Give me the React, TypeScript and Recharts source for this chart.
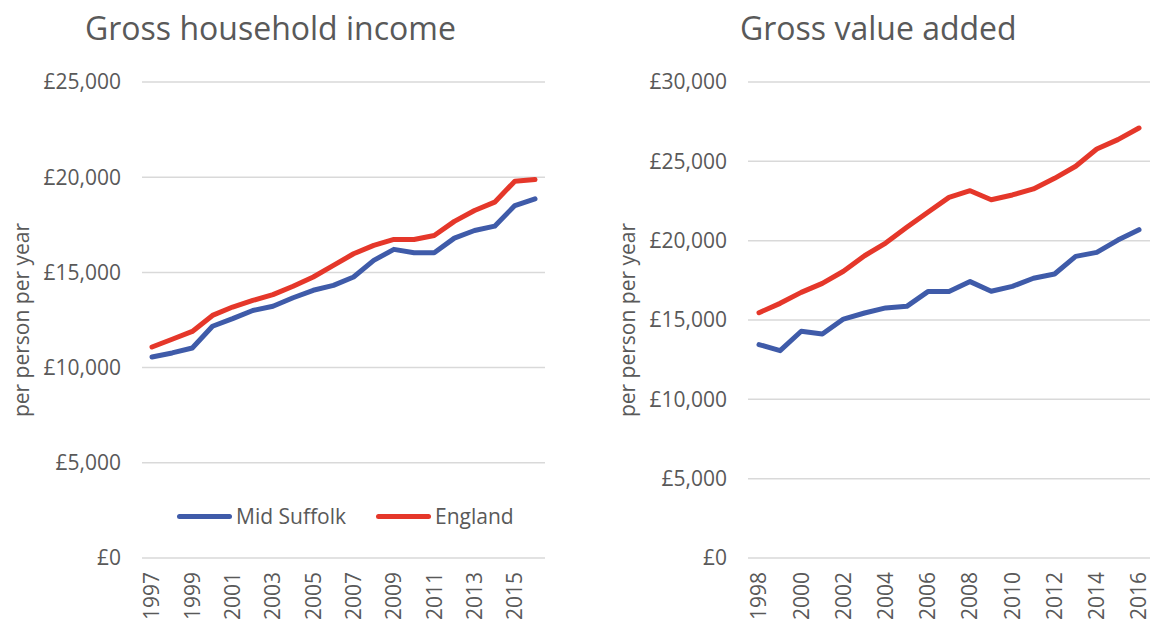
import { LineChart, Line, XAxis, YAxis, CartesianGrid, Legend } from 'recharts'

const incomeYears = ['1997', '1998', '1999', '2000', '2001', '2002', '2003', '2004', '2005', '2006', '2007', '2008', '2009', '2010', '2011', '2012', '2013', '2014', '2015', '2016']
const incomeMidSuffolk = [10560, 10770, 11030, 12170, 12570, 13000, 13220, 13670, 14060, 14320, 14760, 15630, 16210, 16030, 16030, 16800, 17200, 17430, 18510, 18860]
const incomeEngland = [11080, 11490, 11900, 12740, 13180, 13530, 13830, 14270, 14760, 15370, 15980, 16420, 16730, 16730, 16940, 17680, 18250, 18690, 19790, 19880]
const incomeTicks = [0, 5000, 10000, 15000, 20000, 25000]

const gvaYears = ['1998', '1999', '2000', '2001', '2002', '2003', '2004', '2005', '2006', '2007', '2008', '2009', '2010', '2011', '2012', '2013', '2014', '2015', '2016']
const gvaMidSuffolk = [13450, 13070, 14290, 14120, 15060, 15440, 15760, 15860, 16790, 16790, 17420, 16810, 17120, 17630, 17900, 19010, 19260, 20040, 20690]
const gvaEngland = [15460, 16050, 16740, 17310, 18070, 19050, 19850, 20840, 21790, 22730, 23150, 22580, 22880, 23260, 23930, 24690, 25780, 26370, 27100]
const gvaTicks = [0, 5000, 10000, 15000, 20000, 25000, 30000]

const BLUE = '#3F5BA9'
const RED = '#E5372A'
const TEXT = '#595959'

const fmt = (v: number) => '£' + v.toLocaleString('en-GB')

function YearTick({ x, y, payload }: any) {
  return (
    <text
      x={x}
      y={y}
      transform={`rotate(-90 ${x} ${y})`}
      textAnchor="end"
      dy="0.35em"
      fill={TEXT}
      fontSize={21}
    >
      {payload.value}
    </text>
  )
}

function LegendContent() {
  const items = [
    { name: 'Mid Suffolk', color: BLUE },
    { name: 'England', color: RED },
  ]
  return (
    <div style={{ display: 'flex', alignItems: 'center', gap: 30 }}>
      {items.map((it) => (
        <div key={it.name} style={{ display: 'flex', alignItems: 'center', color: TEXT, fontSize: 21 }}>
          <span style={{ display: 'inline-block', width: 55, height: 5, borderRadius: 3, background: it.color, marginRight: 4 }} />
          {it.name}
        </div>
      ))}
    </div>
  )
}

interface PanelProps {
  title: string
  titleLeft: number
  left: number
  width: number
  marginRight: number
  pad: number
  years: string[]
  mid: number[]
  eng: number[]
  ticks: number[]
  showLegend?: boolean
}

function Panel({ title, titleLeft, left, width, marginRight, pad, years, mid, eng, ticks, showLegend }: PanelProps) {
  const data = years.map((y, i) => ({ year: y, mid: mid[i], eng: eng[i] }))
  return (
    <div style={{ position: 'absolute', left, top: 0, width, height: 623 }}>
      <div style={{ position: 'absolute', left: titleLeft, top: 8, fontSize: 32, lineHeight: '40px', color: TEXT, whiteSpace: 'nowrap' }}>
        {title}
      </div>
      <LineChart width={width} height={623} data={data} margin={{ top: 82, right: marginRight, bottom: 0, left: 0 }}>
        <CartesianGrid vertical={false} stroke="#D9D9D9" strokeWidth={1.5} />
        <XAxis
          dataKey="year"
          axisLine={false}
          tickLine={false}
          tickSize={0}
          tickMargin={14}
          interval={1}
          height={65}
          padding={{ left: pad, right: pad }}
          tick={<YearTick />}
        />
        <YAxis
          width={142}
          domain={[ticks[0], ticks[ticks.length - 1]]}
          ticks={ticks}
          tickFormatter={fmt}
          axisLine={false}
          tickLine={false}
          tickSize={0}
          tickMargin={21}
          tick={{ fill: TEXT, fontSize: 21 }}
          label={{ value: 'per person per year', angle: -90, position: 'insideLeft', offset: 22, fill: TEXT, fontSize: 21, style: { textAnchor: 'middle' } }}
        />
        {showLegend && (
          <Legend
            layout="horizontal"
            verticalAlign="middle"
            align="center"
            content={<LegendContent />}
            wrapperStyle={{ position: 'absolute', left: 177, top: 502, width: 'auto' }}
          />
        )}
        <Line type="linear" dataKey="mid" name="Mid Suffolk" stroke={BLUE} strokeWidth={5} dot={false} strokeLinecap="round" strokeLinejoin="round" isAnimationActive={false} />
        <Line type="linear" dataKey="eng" name="England" stroke={RED} strokeWidth={5} dot={false} strokeLinecap="round" strokeLinejoin="round" isAnimationActive={false} />
      </LineChart>
    </div>
  )
}

export default function App() {
  return (
    <div style={{ position: 'absolute', left: 0, top: 0, width: 1157, height: 623, background: '#fff', fontFamily: '"Open Sans", sans-serif' }}>
      <Panel title="Gross household income" titleLeft={85} left={0} width={560} marginRight={15} pad={10} years={incomeYears} mid={incomeMidSuffolk} eng={incomeEngland} ticks={incomeTicks} showLegend />
      <Panel title="Gross value added" titleLeft={134} left={606} width={551} marginRight={7} pad={11} years={gvaYears} mid={gvaMidSuffolk} eng={gvaEngland} ticks={gvaTicks} />
    </div>
  )
}
